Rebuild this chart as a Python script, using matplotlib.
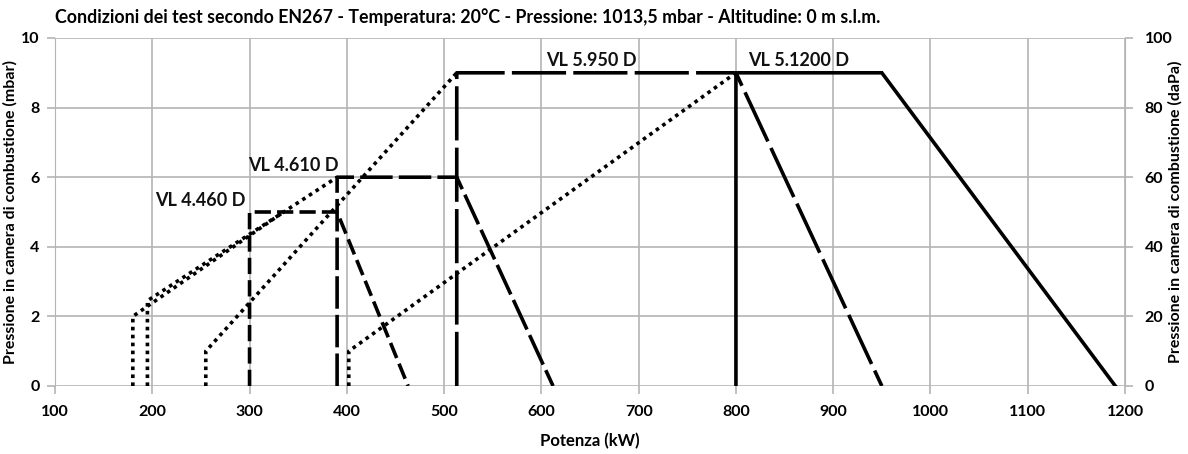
import matplotlib.pyplot as plt

plt.rcParams['font.family'] = ['Lato', 'DejaVu Sans']
plt.rcParams['font.weight'] = 'bold'

# ── data (kW, mbar) ─────────────────────────────────────────────────────────
models = ['VL 4.460 D', 'VL 4.610 D', 'VL 5.950 D', 'VL 5.1200 D']

# working range: vertical at min power, flat top, slope down to max power
work_x = [
    [300, 300, 390, 463],
    [390, 390, 513, 612],
    [513, 513, 800, 950],
    [800, 800, 950, 1190],
]
work_y = [
    [0, 5, 5, 0],
    [0, 6, 6, 0],
    [0, 9, 9, 0],
    [0, 9, 9, 0],
]

# start-up range (dotted)
start_x = [
    [180, 180, 335],
    [195, 195, 390],
    [255, 255, 513],
    [402, 402, 800],
]
start_y = [
    [0, 2, 5],
    [0, 2.45, 6],
    [0, 1, 9],
    [0, 1, 9],
]

label_x = [203, 298, 605, 812]
label_y = [5.1, 6.1, 9.12, 9.12]

dash_styles = [(4.5, 1.7), (9, 1.7), (15, 2), None]

title = ('Condizioni dei test secondo EN267 - Temperatura: 20°C - '
         'Pressione: 1013,5 mbar - Altitudine: 0 m s.l.m.')

# ── figure ─────────────────────────────────────────────────────────────────
fig = plt.figure(figsize=(11.88, 4.54), dpi=100)
ax = fig.add_axes([0.0463, 0.1498, 0.9007, 0.7665])

grid_c = '#b4b4b4'
lw = 2.6

for i in range(len(models)):
    if dash_styles[i] is None:
        ax.plot(work_x[i], work_y[i], color='black', lw=lw,
                solid_joinstyle='miter', zorder=3)
    else:
        ax.plot(work_x[i], work_y[i], color='black', lw=lw,
                dashes=dash_styles[i], dash_capstyle='butt', zorder=3)
    ax.plot(start_x[i], start_y[i], color='black', lw=lw,
            dashes=(1, 1.2), dash_capstyle='butt', zorder=3)
    ax.text(label_x[i], label_y[i], models[i], fontsize=13,
            fontweight='bold', ha='left', va='bottom', color='#111111')

ax.set_xlim(100, 1200)
ax.set_ylim(0, 10)
ax.set_xticks(range(100, 1201, 100))
ax.set_yticks(range(0, 11, 2))
ax.grid(True, color=grid_c, lw=1.2)
ax.set_axisbelow(True)
for s in ax.spines.values():
    s.set_visible(False)
ax.spines['left'].set_visible(True)
ax.spines['left'].set_color(grid_c)
ax.tick_params(axis='both', colors=grid_c, labelcolor='black', length=6,
               width=1.2, labelsize=11.5)
ax.tick_params(axis='y', pad=5)
ax.tick_params(axis='x', pad=8)

ax.set_xlabel('Potenza (kW)', fontsize=12, fontweight='bold')
ax.xaxis.set_label_coords(0.5, -0.135)
ax.set_ylabel('Pressione in camera di combustione (mbar)', fontsize=11.5,
              fontweight='bold')
ax.yaxis.set_label_coords(-0.035, 0.5)

ax2 = ax.twinx()
ax2.set_ylim(0, 100)
ax2.set_yticks(range(0, 101, 20))
for s in ax2.spines.values():
    s.set_visible(False)
ax2.spines['right'].set_visible(True)
ax2.spines['right'].set_color(grid_c)
ax2.tick_params(axis='y', colors=grid_c, labelcolor='black', length=6,
                width=1.2, labelsize=11.5, pad=8)
ax2.set_ylabel('Pressione in camera di combustione (daPa)', fontsize=11.5,
               fontweight='bold')
ax2.yaxis.set_label_coords(1.04, 0.5)

fig.text(0.0463, 0.962, title, fontsize=12.8, fontweight='bold',
         ha='left', va='center')

fig.savefig('out.png', dpi=100)
